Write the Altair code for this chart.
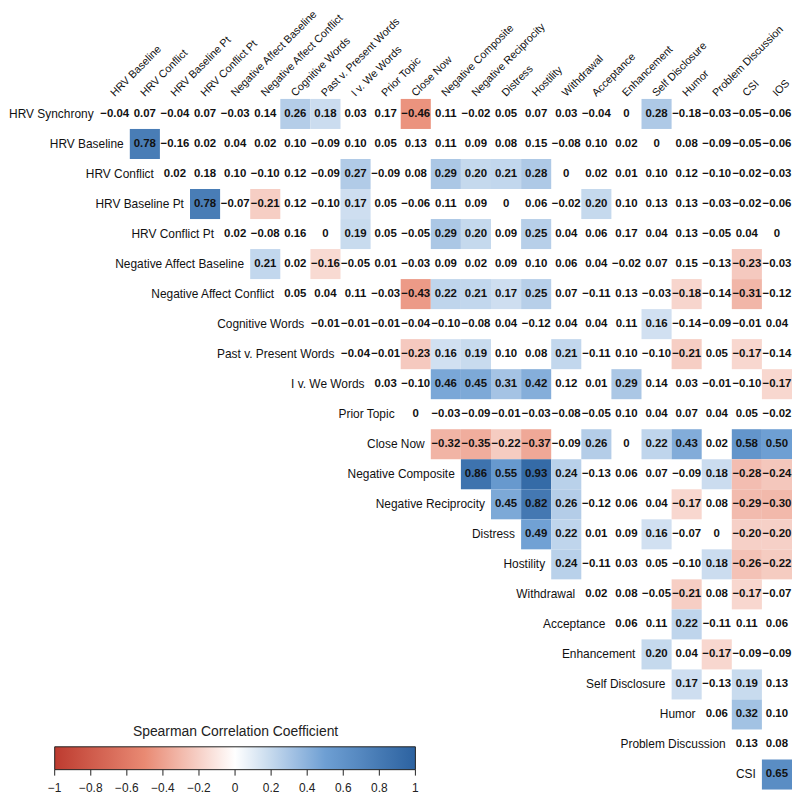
import altair as alt
import pandas as pd

FONT = "Liberation Sans"

variables = [
    "HRV Synchrony", "HRV Baseline", "HRV Conflict", "HRV Baseline Pt", "HRV Conflict Pt",
    "Negative Affect Baseline", "Negative Affect Conflict", "Cognitive Words",
    "Past v. Present Words", "I v. We Words", "Prior Topic", "Close Now",
    "Negative Composite", "Negative Reciprocity", "Distress", "Hostility", "Withdrawal",
    "Acceptance", "Enhancement", "Self Disclosure", "Humor", "Problem Discussion", "CSI", "IOS",
]

# upper triangle: row i holds correlations with variables i+1 .. 23
values = [
    [-0.04, 0.07, -0.04, 0.07, -0.03, 0.14, 0.26, 0.18, 0.03, 0.17, -0.46, 0.11, -0.02, 0.05, 0.07, 0.03, -0.04, 0, 0.28, -0.18, -0.03, -0.05, -0.06],
    [0.78, -0.16, 0.02, 0.04, 0.02, 0.10, -0.09, 0.10, 0.05, 0.13, 0.11, 0.09, 0.08, 0.15, -0.08, 0.10, 0.02, 0, 0.08, -0.09, -0.05, -0.06],
    [0.02, 0.18, 0.10, -0.10, 0.12, -0.09, 0.27, -0.09, 0.08, 0.29, 0.20, 0.21, 0.28, 0, 0.02, 0.01, 0.10, 0.12, -0.10, -0.02, -0.03],
    [0.78, -0.07, -0.21, 0.12, -0.10, 0.17, 0.05, -0.06, 0.11, 0.09, 0, 0.06, -0.02, 0.20, 0.10, 0.13, 0.13, -0.03, -0.02, -0.06],
    [0.02, -0.08, 0.16, 0, 0.19, 0.05, -0.05, 0.29, 0.20, 0.09, 0.25, 0.04, 0.06, 0.17, 0.04, 0.13, -0.05, 0.04, 0],
    [0.21, 0.02, -0.16, -0.05, 0.01, -0.03, 0.09, 0.02, 0.09, 0.10, 0.06, 0.04, -0.02, 0.07, 0.15, -0.13, -0.23, -0.03],
    [0.05, 0.04, 0.11, -0.03, -0.43, 0.22, 0.21, 0.17, 0.25, 0.07, -0.11, 0.13, -0.03, -0.18, -0.14, -0.31, -0.12],
    [-0.01, -0.01, -0.01, -0.04, -0.10, -0.08, 0.04, -0.12, 0.04, 0.04, 0.11, 0.16, -0.14, -0.09, -0.01, 0.04],
    [-0.04, -0.01, -0.23, 0.16, 0.19, 0.10, 0.08, 0.21, -0.11, 0.10, -0.10, -0.21, 0.05, -0.17, -0.14],
    [0.03, -0.10, 0.46, 0.45, 0.31, 0.42, 0.12, 0.01, 0.29, 0.14, 0.03, -0.01, -0.10, -0.17],
    [0, -0.03, -0.09, -0.01, -0.03, -0.08, -0.05, 0.10, 0.04, 0.07, 0.04, 0.05, -0.02],
    [-0.32, -0.35, -0.22, -0.37, -0.09, 0.26, 0, 0.22, 0.43, 0.02, 0.58, 0.50],
    [0.86, 0.55, 0.93, 0.24, -0.13, 0.06, 0.07, -0.09, 0.18, -0.28, -0.24],
    [0.45, 0.82, 0.26, -0.12, 0.06, 0.04, -0.17, 0.08, -0.29, -0.30],
    [0.49, 0.22, 0.01, 0.09, 0.16, -0.07, 0, -0.20, -0.20],
    [0.24, -0.11, 0.03, 0.05, -0.10, 0.18, -0.26, -0.22],
    [0.02, 0.08, -0.05, -0.21, 0.08, -0.17, -0.07],
    [0.06, 0.11, 0.22, -0.11, 0.11, 0.06],
    [0.20, 0.04, -0.17, -0.09, -0.09],
    [0.17, -0.13, 0.19, 0.13],
    [0.06, 0.32, 0.10],
    [0.13, 0.08],
    [0.65],
]

# column indices (into variables) of the shaded (significant) cells in each row
significant = [
    [7, 8, 11, 19], [2], [9, 12, 13, 14, 15], [4, 6, 9, 17], [9, 12, 13, 15],
    [6, 8, 22], [11, 12, 13, 14, 15, 20, 22], [19], [11, 12, 13, 16, 20, 22],
    [12, 13, 14, 15, 18, 23], [], [12, 13, 14, 15, 17, 19, 20, 22, 23],
    [13, 14, 15, 16, 21, 22, 23], [14, 15, 16, 20, 22, 23], [15, 16, 19, 22, 23],
    [16, 21, 22, 23], [20, 22], [20], [19, 21], [20, 22], [22], [], [23],
]

colorbar_ticks = [-1, -0.8, -0.6, -0.4, -0.2, 0, 0.2, 0.4, 0.6, 0.8, 1]

records = []
for i, (vals, sig) in enumerate(zip(values, significant)):
    for k, v in enumerate(vals):
        j = i + 1 + k
        records.append({"row": variables[i], "col": variables[j], "r": v, "sig": j in sig})
cells = pd.DataFrame(records)
row_labels = pd.DataFrame({"var": variables[:23]})
col_labels = pd.DataFrame({"var": variables[1:]})
ticks = pd.DataFrame({"t": colorbar_ticks})

xs = alt.Scale(domain=variables, paddingInner=0, paddingOuter=0)
ys = alt.Scale(domain=variables[:23], paddingInner=0, paddingOuter=0)

cscale = alt.Scale(
    domain=[-1, -0.5, 0, 0.5, 1],
    range=["#BD3B30", "#E98A73", "#FFFFFF", "#6E9FD3", "#2C62A0"],
    interpolate="rgb",
)

rects = alt.Chart(cells).transform_filter("datum.sig").mark_rect().encode(
    x=alt.X("col:N", scale=xs, axis=None),
    y=alt.Y("row:N", scale=ys, axis=None),
    color=alt.Color(
        "r:Q", scale=cscale,
        legend=alt.Legend(
            orient="none", legendX=-15, legendY=630, direction="horizontal",
            gradientLength=363, gradientThickness=23,
            gradientStrokeColor="#222222", gradientStrokeWidth=1,
            title="Spearman Correlation Coefficient", titleAnchor="middle",
            titleFontSize=14, titleFontWeight="normal", titleFont=FONT,
            titleColor="#222222", titlePadding=8, titleLimit=600,
            labelOpacity=0, padding=0,
        ),
    ),
)

texts = alt.Chart(cells).transform_calculate(
    label="datum.r == 0 ? '0' : replace(format(datum.r, '.2f'), '-', '\u2212')"
).mark_text(fontSize=11.5, fontWeight="bold", font=FONT, color="#111111").encode(
    x=alt.X("col:N", scale=xs, axis=None),
    y=alt.Y("row:N", scale=ys, axis=None),
    text="label:N",
)

rlabels = alt.Chart(row_labels).mark_text(
    align="right", dx=9, fontSize=12, font=FONT, color="#111111"
).encode(
    x=alt.X("var:N", scale=xs, axis=None),
    y=alt.Y("var:N", scale=ys, axis=None),
    text="var:N",
)

clabels = alt.Chart(col_labels).mark_text(
    align="left", baseline="alphabetic", angle=315, fontSize=10.8, font=FONT, color="#111111"
).encode(
    x=alt.X("var:N", scale=xs, axis=None),
    y=alt.value(-2),
    text="var:N",
)

tscale = alt.Scale(domain=[-1, 1], range=[-15, 348])
tick_marks = alt.Chart(ticks).mark_rule(color="#222222", strokeWidth=1).encode(
    x=alt.X("t:Q", scale=tscale, axis=None),
    y=alt.value(675),
    y2=alt.value(681),
)
tick_text = alt.Chart(ticks).mark_text(
    fontSize=12, font=FONT, color="#222222", baseline="middle"
).encode(
    x=alt.X("t:Q", scale=tscale, axis=None),
    y=alt.value(693),
    text=alt.Text("t:Q", format="~g"),
)

chart = alt.layer(rects, texts, rlabels, clabels, tick_marks, tick_text).resolve_scale(
    x="independent"
).properties(
    width=727, height=695,
    padding={"left": 62, "top": 89, "right": 0, "bottom": 5},
    autosize=alt.AutoSizeParams(type="none"),
).configure_view(stroke=None)

chart.save("out.html", embed_options={"renderer": "svg", "actions": False})
